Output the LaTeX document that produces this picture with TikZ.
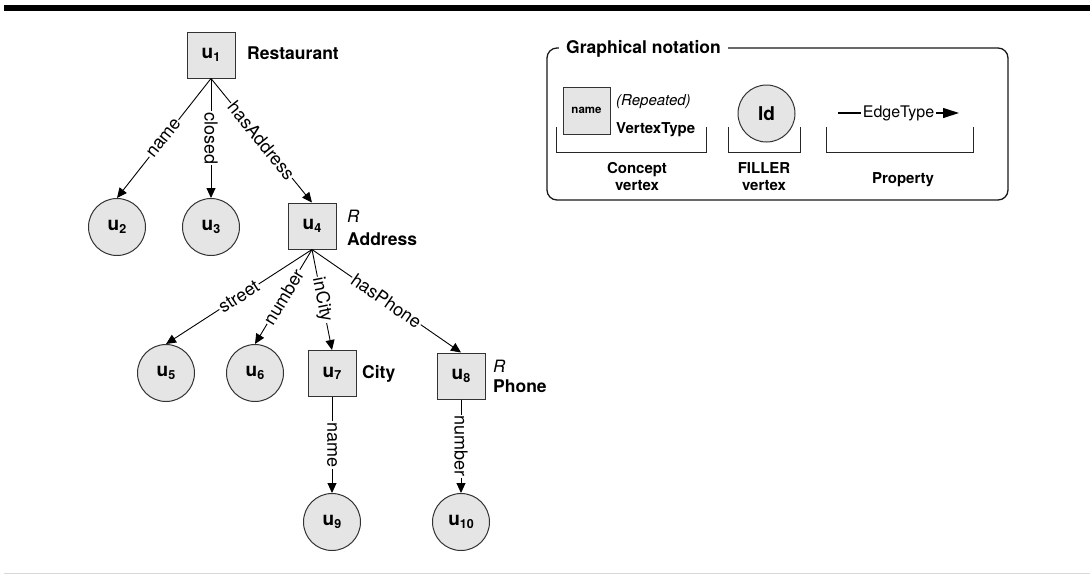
\documentclass[tikz,border=0pt]{standalone}
\usepackage{fontspec}
\setmainfont{TeX Gyre Heros}
\usetikzlibrary{arrows.meta}
% lowered index after the vertex letter
\newcommand\usub[1]{\raisebox{-2.5pt}{\fontsize{12.5}{12.5}\selectfont #1}}

\begin{document}
\begin{tikzpicture}[x=1pt,y=-1pt,
  vfont/.style={font=\fontsize{19}{21}\selectfont\bfseries},
  concept/.style={draw=black!80, line width=1pt, fill=black!10, minimum width=48pt, minimum height=46pt, inner sep=0pt, vfont},
  filler/.style={circle, draw=black!80, line width=1pt, fill=black!10, minimum size=57pt, inner sep=0pt, vfont},
  typelabel/.style={anchor=base west, inner sep=0pt, font=\fontsize{17.5}{20}\selectfont\bfseries},
  rlabel/.style={anchor=base west, inner sep=0pt, font=\fontsize{17}{20}\selectfont\itshape},
  prop/.style={draw, line width=0.9pt, -{Triangle[length=10pt,width=9pt]}},
  plabel/.style={midway, sloped, fill=white, inner sep=1pt, font=\fontsize{18}{20}\selectfont},
  vlabel/.style={midway, rotate=-90, fill=white, inner sep=1pt, font=\fontsize{18}{20}\selectfont},
  bracket/.style={draw=black!85, line width=1pt},
  legcaption/.style={anchor=base, inner sep=0pt, font=\fontsize{15}{17}\selectfont\bfseries},
]
\useasboundingbox (0,0) rectangle (1090,574);

% page rules
\fill (4,5) rectangle (1090,11);
\draw[black!15, line width=1pt] (4,573) -- (1090,573);

% vertices
\node[concept] (u1) at (211,55) {u\usub{1}};
\node[filler] (u2) at (117,227) {u\usub{2}};
\node[filler] (u3) at (211,227) {u\usub{3}};
\node[concept] (u4) at (312,226) {u\usub{4}};
\node[filler] (u5) at (166,373) {u\usub{5}};
\node[filler] (u6) at (255,373) {u\usub{6}};
\node[concept] (u7) at (332,373.5) {u\usub{7}};
\node[concept] (u8) at (461,376) {u\usub{8}};
\node[filler] (u9) at (332,522) {u\usub{9}};
\node[filler] (u10) at (461,522) {u\usub{10}};

% vertex types
\node[typelabel] (t1) at (247,59.5) {Restaurant};
\node[rlabel] (r4) at (347,222) {R};
\node[typelabel] (t4) at (347,245) {Address};
\node[typelabel] (t7) at (362,378) {City};
\node[rlabel] (r8) at (493,372) {R};
\node[typelabel] (t8) at (493,392) {Phone};

% properties
\draw[prop] (u1.south) -- node[plabel]{name} (u2.north);
\draw[prop] (u1.south) -- node[vlabel]{closed} (u3.north);
\draw[prop] (u1.south) -- node[plabel]{hasAddress} (u4.north);
\draw[prop] (u4.south) -- node[plabel]{street} (u5.north);
\draw[prop] (u4.south) -- node[plabel]{number} (u6.north);
\draw[prop] (u4.south) -- node[plabel]{inCity} (u7.north);
\draw[prop] (u4.south) -- node[plabel]{hasPhone} (u8.north);
\draw[prop] (u7.south) -- node[vlabel]{name} (u9.north);
\draw[prop] (u8.south) -- node[vlabel]{number} (u10.north);

% legend frame
\draw[draw=black!90, line width=1.3pt, rounded corners=10pt] (547,48) rectangle (1008,200);
\node[anchor=base west, fill=white, inner xsep=7pt, inner ysep=2pt, font=\fontsize{17.5}{20}\selectfont\bfseries] (lt) at (559,53) {Graphical notation};

% legend: concept vertex
\node[concept, minimum width=47pt, minimum height=47pt, font=\fontsize{11.5}{13}\selectfont\bfseries] (ln) at (586.5,110.5) {name};
\node[anchor=base west, inner sep=0pt, font=\fontsize{15}{18}\selectfont\itshape] (lrep) at (616,105) {(Repeated)};
\node[anchor=base west, inner sep=0pt, font=\fontsize{15}{18}\selectfont\bfseries] (lvt) at (616,133) {VertexType};
\draw[bracket] (556,127) -- (556,152) -- (706,152) -- (706,127);
\node[legcaption] (lc1) at (637,173) {Concept};
\node[legcaption] (lc2) at (637,190) {vertex};

% legend: filler vertex
\node[filler] (lid) at (766.5,113.5) {Id};
\draw[bracket] (728,127) -- (728,152) -- (800,152) -- (800,127);
\node[legcaption] (lf1) at (764,173) {FILLER};
\node[legcaption] (lf2) at (764,190) {vertex};

% legend: property
\coordinate (e0) at (838,113);
\coordinate (e1) at (959,113);
\draw[line width=1.1pt, -{Triangle[length=16pt,width=10pt]}] (e0) -- node[midway, fill=white, inner xsep=1.5pt, inner ysep=1pt, font=\fontsize{16}{18}\selectfont] (let) {EdgeType} (e1);
\draw[bracket] (826,127) -- (826,152) -- (973,152) -- (973,127);
\node[legcaption] (lp) at (903,183) {Property};

\end{tikzpicture}
\end{document}
